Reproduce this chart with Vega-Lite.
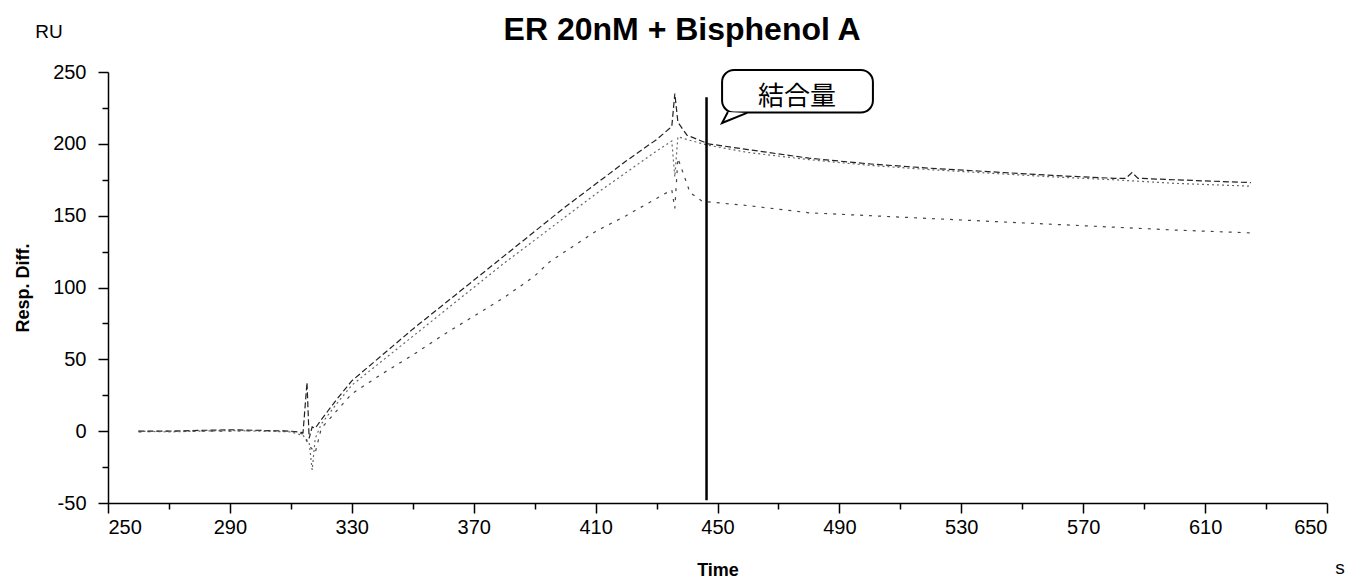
{
  "$schema": "https://vega.github.io/schema/vega-lite/v6.json",
  "width": 1219,
  "height": 431,
  "autosize": {"type": "none"},
  "padding": {"left": 108, "top": 72, "right": 28, "bottom": 77},
  "background": "white",
  "config": {
    "view": {"stroke": null},
    "font": "Liberation Sans",
    "axis": {"grid": false, "domainColor": "black", "tickColor": "black", "labelColor": "black", "titleColor": "black", "domainWidth": 1.5, "tickWidth": 1.5}
  },
  "datasets": {
    "curves": [
      {"s": "A", "t": 260, "ru": 0}, {"s": "A", "t": 270, "ru": 0}, {"s": "A", "t": 280, "ru": 0.5}, {"s": "A", "t": 290, "ru": 1}, {"s": "A", "t": 300, "ru": 0.5}, {"s": "A", "t": 310, "ru": 0}, {"s": "A", "t": 314, "ru": -1}, {"s": "A", "t": 315.3, "ru": 34}, {"s": "A", "t": 316, "ru": -5}, {"s": "A", "t": 317, "ru": 3}, {"s": "A", "t": 318, "ru": 2}, {"s": "A", "t": 320, "ru": 8}, {"s": "A", "t": 325, "ru": 22}, {"s": "A", "t": 330, "ru": 35}, {"s": "A", "t": 340, "ru": 53}, {"s": "A", "t": 350, "ru": 71}, {"s": "A", "t": 360, "ru": 88}, {"s": "A", "t": 370, "ru": 105}, {"s": "A", "t": 380, "ru": 122}, {"s": "A", "t": 390, "ru": 139}, {"s": "A", "t": 400, "ru": 156}, {"s": "A", "t": 410, "ru": 172}, {"s": "A", "t": 420, "ru": 188}, {"s": "A", "t": 430, "ru": 203}, {"s": "A", "t": 435, "ru": 212}, {"s": "A", "t": 436, "ru": 235}, {"s": "A", "t": 437, "ru": 215}, {"s": "A", "t": 440, "ru": 206}, {"s": "A", "t": 447, "ru": 200}, {"s": "A", "t": 460, "ru": 196}, {"s": "A", "t": 480, "ru": 190}, {"s": "A", "t": 500, "ru": 186}, {"s": "A", "t": 520, "ru": 183}, {"s": "A", "t": 540, "ru": 180.5}, {"s": "A", "t": 560, "ru": 178}, {"s": "A", "t": 580, "ru": 176}, {"s": "A", "t": 584, "ru": 176}, {"s": "A", "t": 586, "ru": 180}, {"s": "A", "t": 588, "ru": 176}, {"s": "A", "t": 600, "ru": 175}, {"s": "A", "t": 625, "ru": 173},
      {"s": "B", "t": 260, "ru": 0}, {"s": "B", "t": 270, "ru": -0.5}, {"s": "B", "t": 280, "ru": 0}, {"s": "B", "t": 290, "ru": 0.5}, {"s": "B", "t": 300, "ru": 0}, {"s": "B", "t": 310, "ru": -0.5}, {"s": "B", "t": 314, "ru": -3}, {"s": "B", "t": 316, "ru": -8}, {"s": "B", "t": 317, "ru": -27}, {"s": "B", "t": 318, "ru": -5}, {"s": "B", "t": 320, "ru": 5}, {"s": "B", "t": 325, "ru": 19}, {"s": "B", "t": 330, "ru": 32}, {"s": "B", "t": 340, "ru": 49}, {"s": "B", "t": 350, "ru": 66}, {"s": "B", "t": 360, "ru": 83}, {"s": "B", "t": 370, "ru": 100}, {"s": "B", "t": 380, "ru": 117}, {"s": "B", "t": 390, "ru": 133}, {"s": "B", "t": 400, "ru": 149}, {"s": "B", "t": 410, "ru": 165}, {"s": "B", "t": 420, "ru": 180}, {"s": "B", "t": 430, "ru": 195}, {"s": "B", "t": 435, "ru": 202}, {"s": "B", "t": 436, "ru": 177}, {"s": "B", "t": 437, "ru": 205}, {"s": "B", "t": 440, "ru": 203}, {"s": "B", "t": 447, "ru": 199}, {"s": "B", "t": 460, "ru": 194}, {"s": "B", "t": 480, "ru": 189}, {"s": "B", "t": 500, "ru": 185}, {"s": "B", "t": 520, "ru": 182}, {"s": "B", "t": 540, "ru": 179.5}, {"s": "B", "t": 560, "ru": 177}, {"s": "B", "t": 580, "ru": 175}, {"s": "B", "t": 600, "ru": 172.5}, {"s": "B", "t": 625, "ru": 170.5},
      {"s": "C", "t": 260, "ru": -0.5}, {"s": "C", "t": 270, "ru": 0}, {"s": "C", "t": 280, "ru": 0}, {"s": "C", "t": 290, "ru": 0}, {"s": "C", "t": 300, "ru": 0.5}, {"s": "C", "t": 310, "ru": 0}, {"s": "C", "t": 314, "ru": -2}, {"s": "C", "t": 316, "ru": -10}, {"s": "C", "t": 318, "ru": -15}, {"s": "C", "t": 320, "ru": 2}, {"s": "C", "t": 330, "ru": 26}, {"s": "C", "t": 340, "ru": 40}, {"s": "C", "t": 350, "ru": 53}, {"s": "C", "t": 360, "ru": 67}, {"s": "C", "t": 370, "ru": 80}, {"s": "C", "t": 380, "ru": 93}, {"s": "C", "t": 390, "ru": 108}, {"s": "C", "t": 395, "ru": 118}, {"s": "C", "t": 400, "ru": 125}, {"s": "C", "t": 410, "ru": 139}, {"s": "C", "t": 420, "ru": 150}, {"s": "C", "t": 430, "ru": 162}, {"s": "C", "t": 435, "ru": 168}, {"s": "C", "t": 436, "ru": 155}, {"s": "C", "t": 437, "ru": 190}, {"s": "C", "t": 439, "ru": 178}, {"s": "C", "t": 441, "ru": 166}, {"s": "C", "t": 445, "ru": 160}, {"s": "C", "t": 460, "ru": 157}, {"s": "C", "t": 480, "ru": 152}, {"s": "C", "t": 500, "ru": 150}, {"s": "C", "t": 520, "ru": 148}, {"s": "C", "t": 540, "ru": 146}, {"s": "C", "t": 560, "ru": 144}, {"s": "C", "t": 580, "ru": 142}, {"s": "C", "t": 600, "ru": 140}, {"s": "C", "t": 625, "ru": 138}
    ],
    "marker": [{"t": 446.4, "lo": -48, "hi": 232.5}],
    "box": [{"x1": 451.5, "x2": 501, "y1": 221.8, "y2": 251.4, "label": "結合量", "tx": 476.1, "ty": 232.6}],
    "tail": [{"o": 1, "t": 453.4, "ru": 222.2}, {"o": 2, "t": 451.5, "ru": 214.5}, {"o": 3, "t": 459.7, "ru": 221.5}],
    "notes": [{"t": 230.6, "ru": 277.8, "label": "RU", "w": "normal"}, {"t": 654.3, "ru": -95.2, "label": "s", "w": "bold"}],
    "heading": [{"t": 438.4, "ru": 279.2, "label": "ER 20nM + Bisphenol A"}],
    "minor": [{"t": 250, "ru": 0}]
  },
  "layer": [
    {
      "data": {"name": "curves"},
      "mark": {"type": "line", "strokeWidth": 1.2},
      "encoding": {
        "x": {"field": "t", "type": "quantitative", "scale": {"domain": [250, 650], "nice": false}, "axis": {"orient": "bottom", "values": [250, 290, 330, 370, 410, 450, 490, 530, 570, 610, 650], "title": "Time", "titleFontSize": 18, "titleFontWeight": "bold", "titlePadding": 24, "labelFontSize": 20, "tickSize": 10, "labelPadding": 4}},
        "y": {"field": "ru", "type": "quantitative", "scale": {"domain": [-50, 250], "nice": false}, "axis": {"orient": "left", "values": [-50, 0, 50, 100, 150, 200, 250], "labelExpr": "replace(datum.label, '−', '-')", "title": "Resp. Diff.", "titleFontSize": 18, "titleFontWeight": "bold", "titlePadding": 20, "labelFontSize": 20, "tickSize": 10, "labelPadding": 12}},
        "detail": {"field": "s"},
        "color": {"field": "s", "type": "nominal", "scale": {"domain": ["A", "B", "C"], "range": ["#222222", "#666666", "#444444"]}, "legend": null},
        "strokeDash": {"field": "s", "type": "nominal", "scale": {"domain": ["A", "B", "C"], "range": [[6, 3], [2, 3], [3, 6]]}, "legend": null}
      }
    },
    {
      "data": {"name": "minor"},
      "mark": {"type": "point", "opacity": 0},
      "encoding": {
        "x": {"field": "t", "type": "quantitative", "axis": {"orient": "bottom", "values": [270, 310, 350, 390, 430, 470, 510, 550, 590, 630], "labels": false, "domain": false, "title": null, "tickSize": 6}},
        "y": {"field": "ru", "type": "quantitative", "axis": {"orient": "left", "values": [-25, 25, 75, 125, 175, 225], "labels": false, "domain": false, "title": null, "tickSize": 6}}
      }
    },
    {
      "data": {"name": "marker"},
      "mark": {"type": "rule", "color": "black", "strokeWidth": 2.5},
      "encoding": {
        "x": {"field": "t", "type": "quantitative", "axis": null},
        "y": {"field": "lo", "type": "quantitative", "axis": null},
        "y2": {"field": "hi"}
      }
    },
    {
      "data": {"name": "box"},
      "mark": {"type": "rect", "fill": "white", "stroke": "black", "strokeWidth": 2, "cornerRadius": 12},
      "encoding": {
        "x": {"field": "x1", "type": "quantitative", "axis": null},
        "x2": {"field": "x2"},
        "y": {"field": "y1", "type": "quantitative", "axis": null},
        "y2": {"field": "y2"}
      }
    },
    {
      "data": {"name": "tail"},
      "mark": {"type": "line", "color": "black", "strokeWidth": 2, "fill": "white"},
      "encoding": {
        "x": {"field": "t", "type": "quantitative", "axis": null},
        "y": {"field": "ru", "type": "quantitative", "axis": null},
        "order": {"field": "o"}
      }
    },
    {
      "data": {"name": "box"},
      "mark": {"type": "text", "font": "Noto Sans CJK JP", "fontSize": 26, "color": "black", "align": "center", "baseline": "middle"},
      "encoding": {
        "x": {"field": "tx", "type": "quantitative", "axis": null},
        "y": {"field": "ty", "type": "quantitative", "axis": null},
        "text": {"field": "label"}
      }
    },
    {
      "data": {"name": "notes"},
      "mark": {"type": "text", "fontSize": 19, "color": "black", "align": "center", "baseline": "middle"},
      "encoding": {
        "x": {"field": "t", "type": "quantitative", "axis": null},
        "y": {"field": "ru", "type": "quantitative", "axis": null},
        "text": {"field": "label"},
        "fontWeight": {"field": "w", "type": "nominal", "scale": null}
      }
    },
    {
      "data": {"name": "heading"},
      "mark": {"type": "text", "fontSize": 32, "fontWeight": "bold", "color": "black", "align": "center", "baseline": "middle"},
      "encoding": {
        "x": {"field": "t", "type": "quantitative", "axis": null},
        "y": {"field": "ru", "type": "quantitative", "axis": null},
        "text": {"field": "label"}
      }
    }
  ],
  "resolve": {"axis": {"x": "independent", "y": "independent"}}
}
